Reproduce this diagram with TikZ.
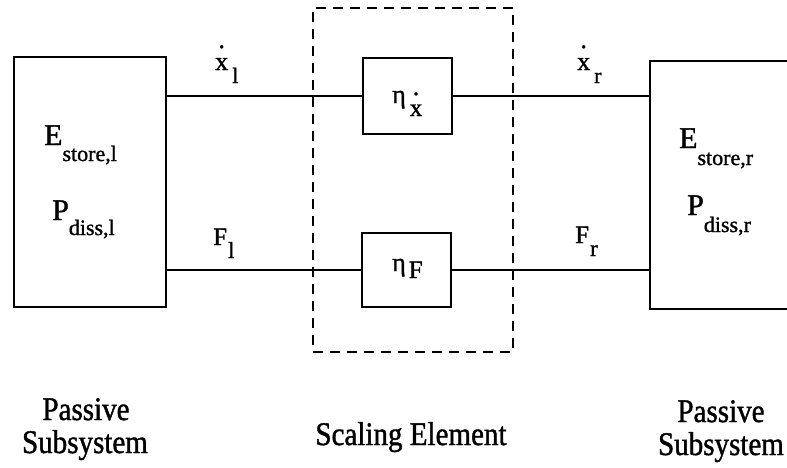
\documentclass[tikz,border=0pt]{standalone}
\usepackage{fontspec}
\setmainfont{Liberation Serif}[UprightFeatures={FakeBold=1.2}]
\newfontfamily\capfont{Liberation Serif}[UprightFeatures={FakeStretch=0.88,FakeBold=1.2}]
% main text, subscript, main size, sub size, drop, gap
\newcommand\lbl[6]{{\fontsize{#3}{#3}\selectfont #1}\hspace{#6pt}\raisebox{-#5pt}{\fontsize{#4}{#4}\selectfont #2}}
% x with a dot set high above it
\newcommand\xdot[1]{\ooalign{x\cr\hidewidth\raisebox{#1}{.}\hidewidth\cr}}
\begin{document}
\begin{tikzpicture}[x=1pt,y=-1pt,
  box/.style={draw, line width=1.7pt, inner sep=0pt},
  wire/.style={line width=1.4pt},
  lab/.style={anchor=base west, inner sep=0pt},
  captxt/.style={anchor=base, inner sep=0pt, font=\capfont\fontsize{33}{36}\selectfont}]
\useasboundingbox (0,0) rectangle (787,467);
\clip (0,0) rectangle (787,467);
% boxes
\node[box, minimum width=152pt, minimum height=250pt] (L) at (90,182) {};
\node[box, minimum width=160pt, minimum height=248pt, anchor=north west] (R) at (649,60) {};
\node[box, minimum width=89pt, minimum height=76pt] (ex) at (407.5,96) {};
\node[box, minimum width=89pt, minimum height=74pt] (eF) at (406.5,270) {};
\node[draw, line width=1.6pt, dash pattern=on 10pt off 7pt, minimum width=200pt, minimum height=344pt, inner sep=0pt] (S) at (413,180) {};
% wires
\draw[wire] (ex.west) -- (ex.west -| L.east);
\draw[wire] (ex.east) -- (ex.east -| R.west);
\draw[wire] (eF.west) -- (eF.west -| L.east);
\draw[wire] (eF.east) -- (eF.east -| R.west);
% labels
\node[lab] (El) at (44,145) {\lbl{E}{store,l}{30}{22}{16}{0}};
\node[lab] (Pl) at (52,220) {\lbl{P}{diss,l}{30}{22}{15}{0}};
\node[lab] (Er) at (679,148) {\lbl{E}{store,r}{30}{22}{17}{0}};
\node[lab] (Pr) at (687,215) {\lbl{P}{diss,r}{30}{22}{17}{0}};
\node[lab] (xl) at (215,70) {\lbl{\xdot{22pt}}{l}{26}{22}{13}{4}};
\node[lab] (xr) at (577,70) {\lbl{\xdot{22pt}}{r}{26}{22}{13}{4}};
\node[lab] (Fl) at (213,245) {\lbl{F}{l}{25}{23}{13}{1}};
\node[lab] (Fr) at (575,243) {\lbl{F}{r}{25}{23}{13}{1}};
\node[lab] (ne) at (392,103) {\lbl{η}{\xdot{21pt}}{26}{25}{13}{4}};
\node[lab] (nF) at (392,271) {\lbl{η}{F}{26}{25}{7}{3}};
% captions
\node[captxt] (pl1) at (86,420) {Passive};
\node[captxt] (pl2) at (85,453) {Subsystem};
\node[captxt] (sc) at (411,445) {Scaling Element};
\node[captxt] (pr1) at (721,422) {Passive};
\node[captxt] (pr2) at (721,455) {Subsystem};
\end{tikzpicture}
\end{document}
